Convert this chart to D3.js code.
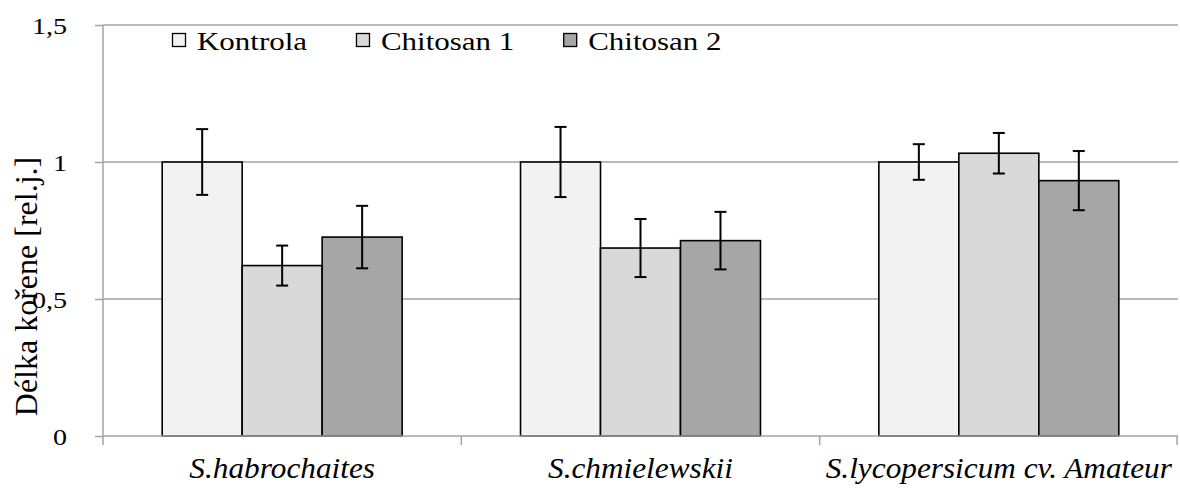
<!DOCTYPE html>
<html>
<head>
<meta charset="utf-8">
<script src="https://cdn.jsdelivr.net/npm/d3@7/dist/d3.min.js"></script>
<style>
  body { margin: 0; background: #fff; }
  svg text { font-family: "Liberation Serif", "Times New Roman", serif; fill: #000; }
</style>
</head>
<body>
<div id="chart"></div>
<script>
// data
const categories = ['S.habrochaites', 'S.chmielewskii', 'S.lycopersicum cv. Amateur'];
const seriesNames = ['Kontrola', 'Chitosan 1', 'Chitosan 2'];
const kontrola = [1.0, 1.0, 1.0];
const kontrolaErr = [0.12, 0.128, 0.065];
const chitosan1 = [0.622, 0.686, 1.032];
const chitosan1Err = [0.073, 0.106, 0.074];
const chitosan2 = [0.726, 0.713, 0.932];
const chitosan2Err = [0.114, 0.105, 0.108];
const yTicks = [0, 0.5, 1, 1.5];
const yTickLabels = ['0', '0,5', '1', '1,5'];
const colors = ['#f2f2f2', '#d9d9d9', '#a6a6a6'];

const values = [kontrola, chitosan1, chitosan2];
const errors = [kontrolaErr, chitosan1Err, chitosan2Err];

const width = 1180, height = 488;
const plot = {left: 103, right: 1178, top: 25, bottom: 436};
const serif = 'Liberation Serif';

const svg = d3.select('#chart')
  .append('svg')
  .attr('width', width)
  .attr('height', height);

// stretch text horizontally a bit, like the reference
function widen(sel, k) {
  sel.each(function () {
    const n = d3.select(this);
    const w = this.getComputedTextLength();
    n.attr('textLength', w * k).attr('lengthAdjust', 'spacingAndGlyphs');
  });
}

const x0 = d3.scaleBand()
  .domain(categories)
  .range([plot.left, plot.right])
  .padding(0);

const x1 = d3.scaleBand()
  .domain(seriesNames)
  .range([0, x0.bandwidth()])
  .paddingInner(0)
  .paddingOuter(0.74);

const y = d3.scaleLinear()
  .domain([0, 1.5])
  .range([plot.bottom, plot.top]);

const gridColor = '#a3a3a3';

// gridlines
svg.append('g')
  .selectAll('line')
  .data(yTicks.filter(d => d > 0))
  .enter()
  .append('line')
  .attr('x1', plot.left)
  .attr('x2', plot.right)
  .attr('y1', d => y(d))
  .attr('y2', d => y(d))
  .attr('stroke', gridColor)
  .attr('stroke-width', 1.5);

// y axis (ticks + labels)
const yAxis = svg.append('g')
  .attr('transform', 'translate(' + plot.left + ',0)')
  .call(d3.axisLeft(y)
    .tickValues(yTicks)
    .tickFormat((d, i) => yTickLabels[i])
    .tickSize(8)
    .tickPadding(28));
yAxis.attr('font-family', serif);
yAxis.select('.domain').remove();
yAxis.selectAll('line').attr('stroke', gridColor).attr('stroke-width', 1.5);
yAxis.selectAll('text')
  .attr('font-family', serif)
  .attr('font-size', 23)
  .attr('dy', '0.36em')
  .call(widen, 1.22);

// bars
const groups = svg.append('g')
  .selectAll('g.cat')
  .data(categories)
  .enter()
  .append('g')
  .attr('class', 'cat')
  .attr('transform', d => 'translate(' + x0(d) + ',0)');

const bars = groups.selectAll('g.bar')
  .data((c, ci) => seriesNames.map((s, si) => ({s: s, si: si, v: values[si][ci], e: errors[si][ci]})))
  .enter()
  .append('g')
  .attr('class', 'bar');

bars.append('rect')
  .attr('x', d => x1(d.s))
  .attr('width', x1.bandwidth())
  .attr('y', d => y(d.v))
  .attr('height', d => y(0) - y(d.v))
  .attr('fill', d => colors[d.si])
  .attr('stroke', '#000')
  .attr('stroke-width', 1.6);

// x axis line + ticks
svg.append('line')
  .attr('x1', plot.left).attr('x2', plot.right)
  .attr('y1', y(0)).attr('y2', y(0))
  .attr('stroke', gridColor).attr('stroke-width', 1.5);
svg.append('line')
  .attr('x1', plot.left).attr('x2', plot.left)
  .attr('y1', plot.top).attr('y2', y(0) + 9)
  .attr('stroke', gridColor).attr('stroke-width', 1.5);
svg.append('g')
  .selectAll('line')
  .data(categories.slice(1).map(c => x0(c)).concat([plot.right - 1]))
  .enter()
  .append('line')
  .attr('x1', d => d).attr('x2', d => d)
  .attr('y1', y(0)).attr('y2', y(0) + 9)
  .attr('stroke', gridColor).attr('stroke-width', 1.5);

// error bars
const capW = 6;
bars.each(function (d) {
  const g = d3.select(this);
  const cx = x1(d.s) + x1.bandwidth() / 2;
  g.append('line')
    .attr('x1', cx).attr('x2', cx)
    .attr('y1', y(d.v + d.e)).attr('y2', y(d.v - d.e))
    .attr('stroke', '#000').attr('stroke-width', 2);
  [d.v + d.e, d.v - d.e].forEach(v => {
    g.append('line')
      .attr('x1', cx - capW).attr('x2', cx + capW)
      .attr('y1', y(v)).attr('y2', y(v))
      .attr('stroke', '#000').attr('stroke-width', 2);
  });
});

// category labels
svg.append('g')
  .selectAll('text')
  .data(categories)
  .enter()
  .append('text')
  .attr('x', d => x0(d) + x0.bandwidth() / 2)
  .attr('y', 478)
  .attr('text-anchor', 'middle')
  .attr('font-family', serif)
  .attr('font-size', 29.5)
  .attr('font-style', 'italic')
  .text(d => d)
  .call(widen, 1.06);

// y axis title
svg.append('text')
  .attr('transform', 'translate(37,286.5) rotate(-90)')
  .attr('text-anchor', 'middle')
  .attr('font-family', serif)
  .attr('font-size', 32)
  .text('Délka kořene [rel.j.]');

// legend
const legend = svg.append('g').attr('transform', 'translate(172,0)');
let lx = 0;
seriesNames.forEach((s, i) => {
  const item = legend.append('g').attr('transform', 'translate(' + lx + ',0)');
  item.append('rect')
    .attr('x', 0.5).attr('y', 33.5)
    .attr('width', 13).attr('height', 13)
    .attr('fill', colors[i])
    .attr('stroke', '#000').attr('stroke-width', 1.3);
  const t = item.append('text')
    .attr('x', 25).attr('y', 50)
    .attr('font-family', serif)
    .attr('font-size', 26)
    .text(s);
  const w = t.node().getComputedTextLength() * 1.19;
  t.attr('textLength', w).attr('lengthAdjust', 'spacingAndGlyphs');
  lx += 25 + w + 49;
});
</script>
</body>
</html>
